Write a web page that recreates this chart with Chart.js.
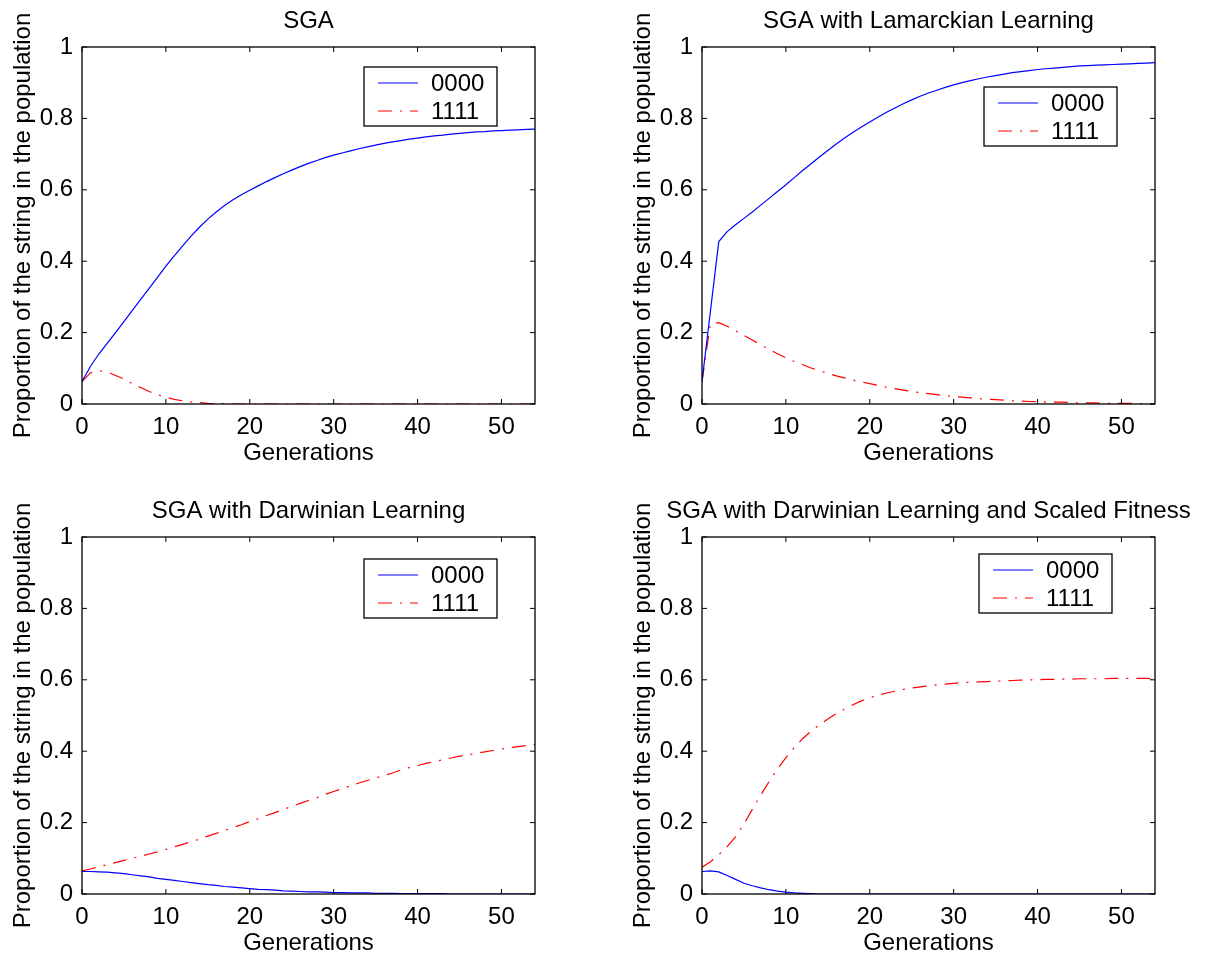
<!DOCTYPE html>
<html>
<head>
<meta charset="utf-8">
<script src="https://cdn.jsdelivr.net/npm/chart.js@4/dist/chart.umd.min.js"></script>
<style>
  body { margin: 0; background: #fff; }
  #wrap { position: relative; width: 1210px; height: 959px; }
  canvas { position: absolute; }
</style>
</head>
<body>
<div id="wrap">
  <canvas id="sga" width="590" height="465" style="left:0;top:0"></canvas>
  <canvas id="lam" width="590" height="465" style="left:620px;top:0"></canvas>
  <canvas id="dar" width="590" height="465" style="left:0;top:490px"></canvas>
  <canvas id="scl" width="590" height="465" style="left:620px;top:490px"></canvas>
</div>
<script>
// generations 0..54
const generations = Array.from({ length: 55 }, (_, i) => i);
const xTicks = [0, 10, 20, 30, 40, 50];
const yTicks = [0, 0.2, 0.4, 0.6, 0.8, 1];
const seriesLabels = ["0000", "1111"];
const panelTitles = [
  "SGA",
  "SGA with Lamarckian Learning",
  "SGA with Darwinian Learning",
  "SGA with Darwinian Learning and Scaled Fitness"
];

// SGA
const sga0000 = [0.063, 0.105, 0.14, 0.17, 0.2, 0.231, 0.262, 0.293, 0.324, 0.355,
  0.386, 0.415, 0.443, 0.47, 0.495, 0.518, 0.538, 0.556, 0.572, 0.586,
  0.599, 0.611, 0.623, 0.634, 0.645, 0.655, 0.665, 0.674, 0.682, 0.69,
  0.697, 0.703, 0.709, 0.715, 0.72, 0.725, 0.73, 0.734, 0.738, 0.742,
  0.745, 0.748, 0.751, 0.753, 0.756, 0.758, 0.76, 0.762, 0.763, 0.765,
  0.766, 0.767, 0.768, 0.769, 0.77];
const sga1111 = [0.063, 0.087, 0.093, 0.09, 0.08, 0.07, 0.057, 0.046, 0.035, 0.026,
  0.019, 0.013, 0.009, 0.006, 0.004, 0.002, 0.001, 0.001, 0, 0,
  0, 0, 0, 0, 0, 0, 0, 0, 0, 0,
  0, 0, 0, 0, 0, 0, 0, 0, 0, 0,
  0, 0, 0, 0, 0, 0, 0, 0, 0, 0,
  0, 0, 0, 0, 0];

// Lamarckian
const lam0000 = [0.063, 0.259, 0.455, 0.483, 0.502, 0.52, 0.538, 0.557, 0.576, 0.595,
  0.614, 0.634, 0.654, 0.673, 0.692, 0.71, 0.728, 0.745, 0.761, 0.776,
  0.79, 0.804, 0.817, 0.829, 0.841, 0.852, 0.862, 0.871, 0.879, 0.887,
  0.894, 0.9, 0.906, 0.911, 0.916, 0.92, 0.924, 0.928, 0.931, 0.934,
  0.937, 0.939, 0.941, 0.943, 0.945, 0.947, 0.948, 0.949, 0.95, 0.951,
  0.952, 0.953, 0.954, 0.955, 0.956];
const lam1111 = [0.063, 0.225, 0.228, 0.218, 0.205, 0.192, 0.179, 0.166, 0.153, 0.141,
  0.129, 0.119, 0.11, 0.101, 0.093, 0.086, 0.079, 0.073, 0.067, 0.062,
  0.057, 0.052, 0.047, 0.043, 0.039, 0.035, 0.032, 0.029, 0.026, 0.023,
  0.021, 0.019, 0.017, 0.015, 0.013, 0.012, 0.011, 0.009, 0.008, 0.007,
  0.0065, 0.006, 0.005, 0.005, 0.004, 0.003, 0.003, 0.003, 0.002, 0.002,
  0.002, 0.002, 0.001, 0.001, 0.001];

// Darwinian
const dar0000 = [0.063, 0.063, 0.062, 0.061, 0.059, 0.057, 0.054, 0.051, 0.048, 0.044,
  0.041, 0.038, 0.035, 0.032, 0.029, 0.026, 0.024, 0.021, 0.019, 0.017,
  0.015, 0.013, 0.012, 0.011, 0.009, 0.008, 0.007, 0.006, 0.006, 0.005,
  0.004, 0.004, 0.003, 0.003, 0.003, 0.002, 0.002, 0.002, 0.001, 0.001,
  0.001, 0.001, 0.001, 0.001, 0, 0, 0, 0, 0, 0,
  0, 0, 0, 0, 0];
const dar1111 = [0.065, 0.07, 0.076, 0.082, 0.088, 0.094, 0.1, 0.106, 0.112, 0.118,
  0.125, 0.132, 0.139, 0.146, 0.154, 0.162, 0.17, 0.178, 0.186, 0.194,
  0.203, 0.211, 0.22, 0.228, 0.237, 0.245, 0.254, 0.262, 0.27, 0.279,
  0.287, 0.295, 0.303, 0.311, 0.318, 0.325, 0.332, 0.339, 0.347, 0.354,
  0.36, 0.366, 0.371, 0.376, 0.381, 0.386, 0.39, 0.394, 0.398, 0.402,
  0.406, 0.41, 0.413, 0.416, 0.419];

// Darwinian + scaled fitness
const scl0000 = [0.063, 0.065, 0.062, 0.052, 0.041, 0.03, 0.023, 0.017, 0.012, 0.008,
  0.005, 0.003, 0.002, 0.001, 0, 0, 0, 0, 0, 0,
  0, 0, 0, 0, 0, 0, 0, 0, 0, 0,
  0, 0, 0, 0, 0, 0, 0, 0, 0, 0,
  0, 0, 0, 0, 0, 0, 0, 0, 0, 0,
  0, 0, 0, 0, 0];
const scl1111 = [0.075, 0.09, 0.11, 0.133, 0.16, 0.196, 0.237, 0.277, 0.315, 0.35,
  0.382, 0.41, 0.435, 0.456, 0.474, 0.49, 0.505, 0.518, 0.53, 0.541,
  0.55, 0.557, 0.563, 0.568, 0.573, 0.577, 0.58, 0.583, 0.586, 0.588,
  0.59, 0.592, 0.593, 0.594, 0.595, 0.596, 0.597, 0.598, 0.599, 0.6,
  0.6, 0.601, 0.601, 0.602, 0.602, 0.603, 0.603, 0.603, 0.603, 0.604,
  0.604, 0.604, 0.604, 0.604, 0.603];

const FONT = "'Liberation Sans', Arial, Helvetica, sans-serif";

// box round the axes, with small ticks pointing in on all four sides
const matlabFrame = {
  id: "matlabFrame",
  afterDatasetsDraw(chart) {
    const { ctx, chartArea: a, scales } = chart;
    ctx.save();
    ctx.strokeStyle = "#000";
    ctx.lineWidth = 1.3;
    ctx.strokeRect(a.left, a.top, a.right - a.left, a.bottom - a.top);
    ctx.lineWidth = 1;
    ctx.beginPath();
    scales.x.ticks.forEach(t => {
      const px = scales.x.getPixelForValue(t.value);
      ctx.moveTo(px, a.bottom); ctx.lineTo(px, a.bottom - 5);
      ctx.moveTo(px, a.top); ctx.lineTo(px, a.top + 5);
    });
    scales.y.ticks.forEach(t => {
      const py = scales.y.getPixelForValue(t.value);
      ctx.moveTo(a.left, py); ctx.lineTo(a.left + 5, py);
      ctx.moveTo(a.right, py); ctx.lineTo(a.right - 5, py);
    });
    ctx.stroke();
    ctx.restore();
  }
};

// title centred over the plot box (not squeezed)
const panelTitle = {
  id: "panelTitle",
  afterDraw(chart, args, opts) {
    const { ctx, chartArea: a } = chart;
    ctx.save();
    ctx.font = "24px " + FONT;
    ctx.fillStyle = "#000";
    ctx.textAlign = "center";
    ctx.textBaseline = "middle";
    ctx.fillText(opts.text, (a.left + a.right) / 2, 21);
    ctx.restore();
  }
};

// MATLAB style legend box inside the axes
const boxLegend = {
  id: "boxLegend",
  afterDraw(chart, args, opts) {
    const { ctx, chartArea: a } = chart;
    const w = 133, h = 59;
    const left = a.right - opts.right - w;
    const top = a.top + opts.top;
    ctx.save();
    ctx.fillStyle = "#fff";
    ctx.fillRect(left, top, w, h);
    ctx.strokeStyle = "#000";
    ctx.lineWidth = 1.3;
    ctx.strokeRect(left, top, w, h);
    ctx.font = "24px " + FONT;
    ctx.textBaseline = "middle";
    chart.data.datasets.forEach((ds, i) => {
      const yy = top + 16 + i * 28;
      ctx.strokeStyle = ds.borderColor;
      ctx.lineWidth = ds.borderWidth;
      ctx.setLineDash(ds.borderDash || []);
      ctx.beginPath();
      ctx.moveTo(left + 14, yy);
      ctx.lineTo(left + 54, yy);
      ctx.stroke();
      ctx.setLineDash([]);
      ctx.fillStyle = "#000";
      ctx.fillText(ds.label, left + 67, yy + 1);
    });
    ctx.restore();
  }
};

function toPoints(vals) {
  return vals.map((v, i) => ({ x: generations[i], y: v }));
}

function makePanel(id, title, s0000, s1111, legendPos) {
  new Chart(document.getElementById(id), {
    type: "line",
    data: {
      datasets: [
        { label: seriesLabels[0], data: toPoints(s0000), borderColor: "#0000ff", borderWidth: 1.2,
          pointRadius: 0, tension: 0, fill: false },
        { label: seriesLabels[1], data: toPoints(s1111), borderColor: "#ff0000", borderWidth: 1.2,
          borderDash: [14, 8, 2, 8], pointRadius: 0, tension: 0, fill: false }
      ]
    },
    options: {
      responsive: false,
      animation: false,
      devicePixelRatio: 1,
      events: [],
      layout: { padding: { top: 47, right: 55, left: 0, bottom: 0 } },
      plugins: {
        legend: { display: false },
        tooltip: { enabled: false },
        title: { display: false },
        panelTitle: { text: title },
        boxLegend: legendPos
      },
      scales: {
        x: {
          type: "linear",
          min: 0,
          max: 54,
          afterBuildTicks: s => { s.ticks = xTicks.map(v => ({ value: v })); },
          afterFit: s => { s.height = 61; },
          grid: { display: false, drawTicks: false },
          border: { display: false },
          ticks: { padding: 11, color: "#000", maxRotation: 0, autoSkip: false,
                   font: { family: FONT, size: 24, lineHeight: 1 },
                   callback: v => String(v) },
          title: { display: true, text: "Generations", color: "#000", padding: { top: 0, bottom: 0 },
                   font: { family: FONT, size: 24, lineHeight: 1 } }
        },
        y: {
          min: 0,
          max: 1,
          afterBuildTicks: s => { s.ticks = yTicks.map(v => ({ value: v })); },
          afterFit: s => { s.width = 82; },
          grid: { display: false, drawTicks: false },
          border: { display: false },
          ticks: { padding: 9, color: "#000", font: { family: FONT, size: 24, lineHeight: 1 },
                   callback: v => String(v) },
          title: { display: true, text: "Proportion of the string in the population", color: "#000",
                   padding: { top: 11, bottom: 0 }, font: { family: FONT, size: 24, lineHeight: 1 } }
        }
      }
    },
    plugins: [matlabFrame, panelTitle, boxLegend]
  });
}

makePanel("sga", panelTitles[0], sga0000, sga1111, { right: 38, top: 20 });
makePanel("lam", panelTitles[1], lam0000, lam1111, { right: 38, top: 40 });
makePanel("dar", panelTitles[2], dar0000, dar1111, { right: 38, top: 22 });
makePanel("scl", panelTitles[3], scl0000, scl1111, { right: 43, top: 17 });
</script>
</body>
</html>
